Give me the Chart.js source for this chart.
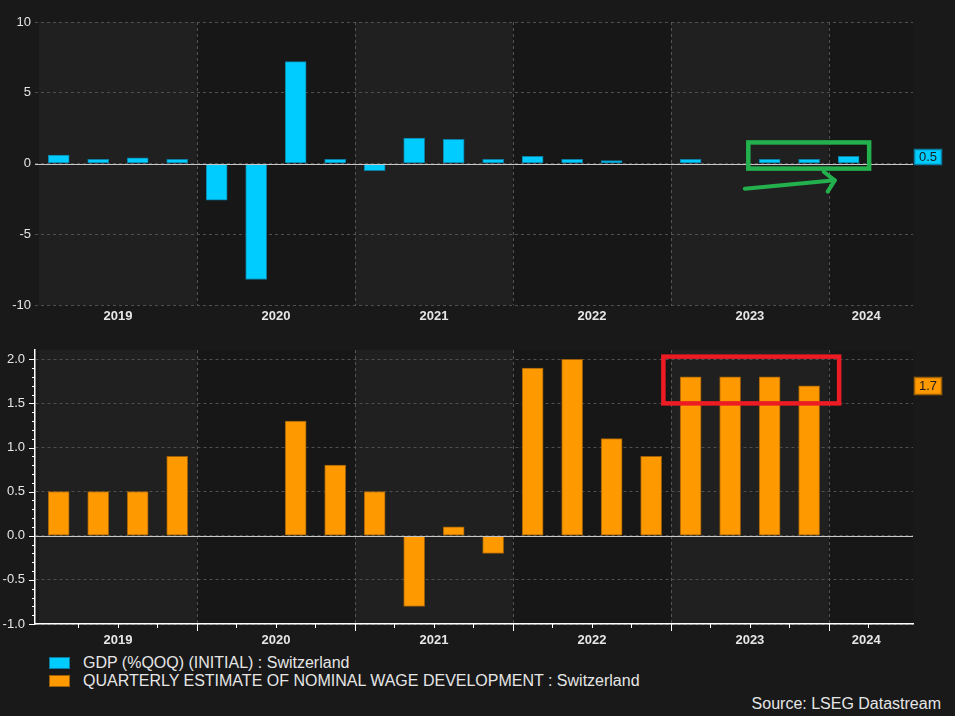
<!DOCTYPE html>
<html>
<head>
<meta charset="utf-8">
<script src="https://cdn.jsdelivr.net/npm/chart.js@4/dist/chart.umd.min.js"></script>
<style>
html,body{margin:0;padding:0;background:#191919;}
#wrap{position:relative;width:955px;height:716px;background:#191919;overflow:hidden;font-family:"Liberation Sans",Arial,sans-serif;}
#c1{position:absolute;left:0;top:0;}
#c2{position:absolute;left:0;top:330px;}
.row{position:absolute;left:49px;height:18px;line-height:18px;color:#e6e6e6;font-size:16px;white-space:nowrap;}
.sw{position:absolute;left:0;top:3px;width:19px;height:10px;border:1px solid;}
.txt{position:absolute;left:34px;top:0;}
#source{position:absolute;right:14px;top:695px;height:18px;line-height:18px;color:#e6e6e6;font-size:16px;white-space:nowrap;}
</style>
</head>
<body>
<div id="wrap">
<canvas id="c1" width="955" height="330"></canvas>
<canvas id="c2" width="955" height="320"></canvas>
<div id="legend"></div>
<div id="source">Source: LSEG Datastream</div>
</div>
<script>
// ---------- data ----------
const quarters = ['2019 Q1','2019 Q2','2019 Q3','2019 Q4','2020 Q1','2020 Q2','2020 Q3','2020 Q4',
  '2021 Q1','2021 Q2','2021 Q3','2021 Q4','2022 Q1','2022 Q2','2022 Q3','2022 Q4',
  '2023 Q1','2023 Q2','2023 Q3','2023 Q4','2024 Q1'];
const years = ['2019','2020','2021','2022','2023','2024'];
const gdp = [0.6,0.3,0.4,0.3,-2.6,-8.2,7.2,0.3,-0.5,1.8,1.7,0.3,0.5,0.3,0.2,0.0,0.3,0.0,0.3,0.3,0.5];
const wages = [0.5,0.5,0.5,0.9,null,null,1.3,0.8,0.5,-0.8,0.1,-0.2,1.9,2.0,1.1,0.9,1.8,1.8,1.8,1.7,null];
const gdpName = 'GDP (%QOQ) (INITIAL) : Switzerland';
const wageName = 'QUARTERLY ESTIMATE OF NOMINAL WAGE DEVELOPMENT : Switzerland';
const gdpTicks = [-10,-5,0,5,10];
const wageTicks = [-1.0,-0.5,0.0,0.5,1.0,1.5,2.0];
// hand-drawn annotations (data units: quarter index, value)
const greenBox = {x0:17.46, x1:20.52, y0:1.49, y1:-0.36};
const greenArrow = {from:[17.37,-1.78], to:[19.65,-1.19], head1:[19.37,-0.58], head2:[19.47,-1.99]};
const redBox = {x0:15.31, x1:19.76, y0:2.03, y1:1.50};

// ---------- styling ----------
const FONT = '"Liberation Sans", Arial, sans-serif';
Chart.defaults.font.family = FONT;
Chart.defaults.color = '#e6e6e6';
const CYAN = '#00ccff', CYAN_B = '#0b7ea3';
const ORANGE = '#ff9900', ORANGE_B = '#9c5f08';
const X_MIN = -0.6, X_MAX = 21.63;

function toXY(arr){ return arr.map((v,i)=>({x:i, y:v})); }

function xAxis(h, pad, border){
  return {
    type:'linear', min:X_MIN, max:X_MAX, offset:false,
    afterBuildTicks: s => { s.ticks = years.map((y,i)=>({value: Math.min(4*i+1.5, (4*i-0.5+X_MAX)/2 - 0.12)})); },
    ticks:{autoSkip:false, maxRotation:0, color:'#e6e6e6', font:{size:13, weight:'bold'}, padding:pad,
      callback:(v,i)=>years[i]},
    grid:{display:false, drawTicks:false, offset:false},
    border:{display:border, color:'#ffffff', width:1.5},
    afterFit: s => { s.height = h; }
  };
}

const deco = {
  id:'deco',
  beforeDraw(chart){
    const {ctx, chartArea:a, scales:{x}} = chart;
    ctx.save();
    for (let i=0;i<years.length;i++){
      const l = Math.max(a.left, x.getPixelForValue(4*i-0.5));
      const r = Math.min(a.right, x.getPixelForValue(4*i+3.5));
      ctx.fillStyle = i%2===0 ? '#202020' : '#171717';
      ctx.fillRect(l, a.top, r-l, a.bottom-a.top);
    }
    ctx.restore();
  },
  beforeDatasetsDraw(chart){
    const {ctx, chartArea:a, scales:{x}} = chart;
    ctx.save();
    ctx.strokeStyle = '#555555'; ctx.lineWidth = 1; ctx.setLineDash([3,3]);
    for (let i=0;i<years.length-1;i++){
      const px = Math.round(x.getPixelForValue(4*i+3.5))+0.5;
      ctx.beginPath(); ctx.moveTo(px, a.top); ctx.lineTo(px, a.bottom); ctx.stroke();
    }
    ctx.restore();
  },
  afterDatasetsDraw(chart, args, o){
    const {ctx, chartArea:a, scales:{x,y}} = chart;
    ctx.save();
    // zero line
    const y0 = Math.round(y.getPixelForValue(0))+0.5;
    ctx.strokeStyle = '#c8c8c8'; ctx.lineWidth = 1.2;
    ctx.beginPath(); ctx.moveTo(a.left, y0); ctx.lineTo(a.right, y0); ctx.stroke();
    // last value box
    const ds = chart.data.datasets[0].data;
    let last = null; for (const p of ds){ if (p.y!==null) last = p.y; }
    const txt = last.toFixed(1);
    ctx.font = '13px ' + FONT;
    const tw = ctx.measureText(txt).width;
    const bw = Math.round(tw + 9), bh = o.boxH;
    const bx = a.right + 1.5, by = Math.round(y.getPixelForValue(last) - bh/2) + 0.5;
    ctx.fillStyle = o.fill; ctx.fillRect(bx, by, bw, bh);
    ctx.strokeStyle = o.stroke; ctx.lineWidth = 1.5; ctx.strokeRect(bx, by, bw, bh);
    ctx.fillStyle = '#1a1a1a'; ctx.textAlign = 'center'; ctx.textBaseline = 'middle';
    ctx.fillText(txt, bx + bw/2, by + bh/2 + 0.5);
    // axis minor ticks (bottom panel)
    if (o.ticks){
      ctx.strokeStyle = '#ffffff'; ctx.lineWidth = 1;
      for (let k=-10;k<=20;k++){
        const py = Math.round(y.getPixelForValue(k/10))+0.5;
        const len = (k%5===0) ? 6 : 3;
        ctx.beginPath(); ctx.moveTo(a.left-len, py); ctx.lineTo(a.left, py); ctx.stroke();
      }
      for (let k=0;k<=20;k++){
        const v = k+0.5;
        const px = Math.round(x.getPixelForValue(v))+0.5;
        const len = ((k-3)%4===0) ? 7 : 4;
        ctx.beginPath(); ctx.moveTo(px, a.bottom); ctx.lineTo(px, a.bottom+len); ctx.stroke();
      }
    }
    // annotations
    if (o.box){
      const b = o.box;
      const l = x.getPixelForValue(b.x0), r = x.getPixelForValue(b.x1);
      const t = y.getPixelForValue(b.y0), bt = y.getPixelForValue(b.y1);
      ctx.strokeStyle = o.boxColor; ctx.lineWidth = 4.5; ctx.lineJoin = 'miter';
      ctx.strokeRect(l, t, r-l, bt-t);
    }
    if (o.arrow){
      const P = p => [x.getPixelForValue(p[0]), y.getPixelForValue(p[1])];
      const f = P(o.arrow.from), t = P(o.arrow.to), h1 = P(o.arrow.head1), h2 = P(o.arrow.head2);
      ctx.strokeStyle = o.boxColor; ctx.lineWidth = 4; ctx.lineCap = 'round'; ctx.lineJoin = 'round';
      ctx.beginPath(); ctx.moveTo(f[0], f[1]); ctx.lineTo(t[0], t[1]); ctx.stroke();
      ctx.beginPath(); ctx.moveTo(h1[0], h1[1]); ctx.lineTo(t[0], t[1]); ctx.lineTo(h2[0], h2[1]); ctx.stroke();
    }
    ctx.restore();
  }
};

new Chart(document.getElementById('c1'), {
  type:'bar',
  data:{datasets:[{label:gdpName, data:toXY(gdp), backgroundColor:CYAN, borderColor:CYAN_B, borderWidth:1, barThickness:21, borderSkipped:false}]},
  options:{
    responsive:false, animation:false, devicePixelRatio:1,
    layout:{padding:{top:22, right:42, left:0, bottom:0}},
    plugins:{legend:{display:false}, tooltip:{enabled:false},
      deco:{fill:CYAN, stroke:CYAN_B, boxH:15, ticks:false, box:greenBox, boxColor:'#22b14c', arrow:greenArrow}},
    scales:{
      x: xAxis(25, 4, false),
      y: {min:-10, max:10,
        afterBuildTicks: s => { s.ticks = gdpTicks.map(v=>({value:v})); },
        ticks:{color:'#e6e6e6', font:{size:13}, padding:4, callback:v=>String(v)},
        grid:{color:'#4f4f4f', drawTicks:false, lineWidth:1},
        border:{display:false, dash:[3,3]},
        afterFit: s => { s.width = 35; }}
    }
  },
  plugins:[deco]
});

new Chart(document.getElementById('c2'), {
  type:'bar',
  data:{datasets:[{label:wageName, data:toXY(wages), backgroundColor:ORANGE, borderColor:ORANGE_B, borderWidth:1, barThickness:21, borderSkipped:false}]},
  options:{
    responsive:false, animation:false, devicePixelRatio:1,
    layout:{padding:{top:20, right:42, left:0, bottom:0}},
    plugins:{legend:{display:false}, tooltip:{enabled:false},
      deco:{fill:ORANGE, stroke:ORANGE_B, boxH:17, ticks:true, box:redBox, boxColor:'#ed1c24'}},
    scales:{
      x: xAxis(26, 9, true),
      y: {min:-1, max:2.105,
        afterBuildTicks: s => { s.ticks = wageTicks.map(v=>({value:v})); },
        ticks:{color:'#e6e6e6', font:{size:13}, padding:10, callback:v=>Number(v).toFixed(1)},
        grid:{color:'#4f4f4f', drawTicks:false, lineWidth:1},
        border:{display:true, color:'#ffffff', width:1.5, dash:[3,3]},
        afterFit: s => { s.width = 35; }}
    }
  },
  plugins:[deco]
});

// legend
const leg = document.getElementById('legend');
[[gdpName, CYAN, CYAN_B, 654],[wageName, ORANGE, ORANGE_B, 672]].forEach(([name, c, b, top])=>{
  const row = document.createElement('div'); row.className='row'; row.style.top = top+'px';
  const sw = document.createElement('div'); sw.className='sw'; sw.style.background=c; sw.style.borderColor=b;
  const t = document.createElement('div'); t.className='txt'; t.textContent = name;
  row.appendChild(sw); row.appendChild(t); leg.appendChild(row);
});
</script>
</body>
</html>
